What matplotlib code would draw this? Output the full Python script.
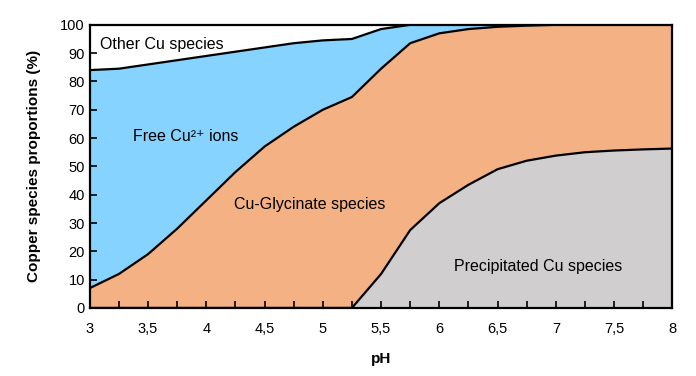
import numpy as np
import matplotlib.pyplot as plt

plt.rcParams['font.family'] = ['Liberation Sans', 'DejaVu Sans']

# pH values and cumulative boundaries (%)
ph = [3, 3.25, 3.5, 3.75, 4, 4.25, 4.5, 4.75, 5, 5.25, 5.5, 5.75,
      6, 6.25, 6.5, 6.75, 7, 7.25, 7.5, 7.75, 8]
precipitated = [0, 0, 0, 0, 0, 0, 0, 0, 0, 0, 12, 27.5,
                37, 43.5, 49, 52, 53.8, 55, 55.6, 56, 56.3]
glycinate_top = [7, 12, 19, 28, 38, 48, 57, 64, 70, 74.5, 84.5, 93.5,
                 97, 98.5, 99.3, 99.7, 100, 100, 100, 100, 100]
free_top = [84, 84.5, 86, 87.5, 89, 90.5, 92, 93.5, 94.5, 95, 98.5, 100,
            100, 100, 100, 100, 100, 100, 100, 100, 100]

x = np.array(ph)
fig = plt.figure(figsize=(6.96, 3.76), dpi=100)
ax = fig.add_axes([0.129, 0.181, 0.837, 0.753])

ax.fill_between(x, 0, precipitated, color='#D0CECE', lw=0)
ax.fill_between(x, precipitated, glycinate_top, color='#F4B183', lw=0)
ax.fill_between(x, glycinate_top, free_top, color='#87D3FF', lw=0)

for ser in (precipitated, glycinate_top, free_top):
    ax.plot(x, ser, color='black', lw=1.6, solid_joinstyle='round')

ax.set_xlim(3, 8)
ax.set_ylim(0, 100)
ax.set_xticks(np.arange(3, 8.01, 0.5))
ax.set_xticklabels([f"{v:g}".replace('.', ',') for v in np.arange(3, 8.01, 0.5)])
ax.set_xticks(np.arange(3, 8.01, 0.25), minor=True)
ax.set_yticks(np.arange(0, 101, 10))
ax.tick_params(axis='both', direction='in', length=5, width=1.2, labelsize=10.5)
ax.tick_params(axis='x', which='minor', direction='in', length=5, width=1.2)
ax.tick_params(axis='x', pad=10)
for s in ax.spines.values():
    s.set_linewidth(1.6)

ax.set_xlabel('pH', fontsize=11, fontweight='bold', labelpad=12)
ax.set_ylabel('Copper species proportions (%)', fontsize=11, fontweight='bold', labelpad=14)

kw = dict(fontsize=11.5, va='center')
ax.text(3.09, 93, 'Other Cu species', ha='left', **kw)
ax.text(3.82, 60.4, 'Free Cu²⁺ ions', ha='center', **kw)
ax.text(4.89, 36.4, 'Cu-Glycinate species', ha='center', **kw)
ax.text(6.85, 14.5, 'Precipitated Cu species', ha='center', **kw)

fig.savefig('out.png', dpi=100)
